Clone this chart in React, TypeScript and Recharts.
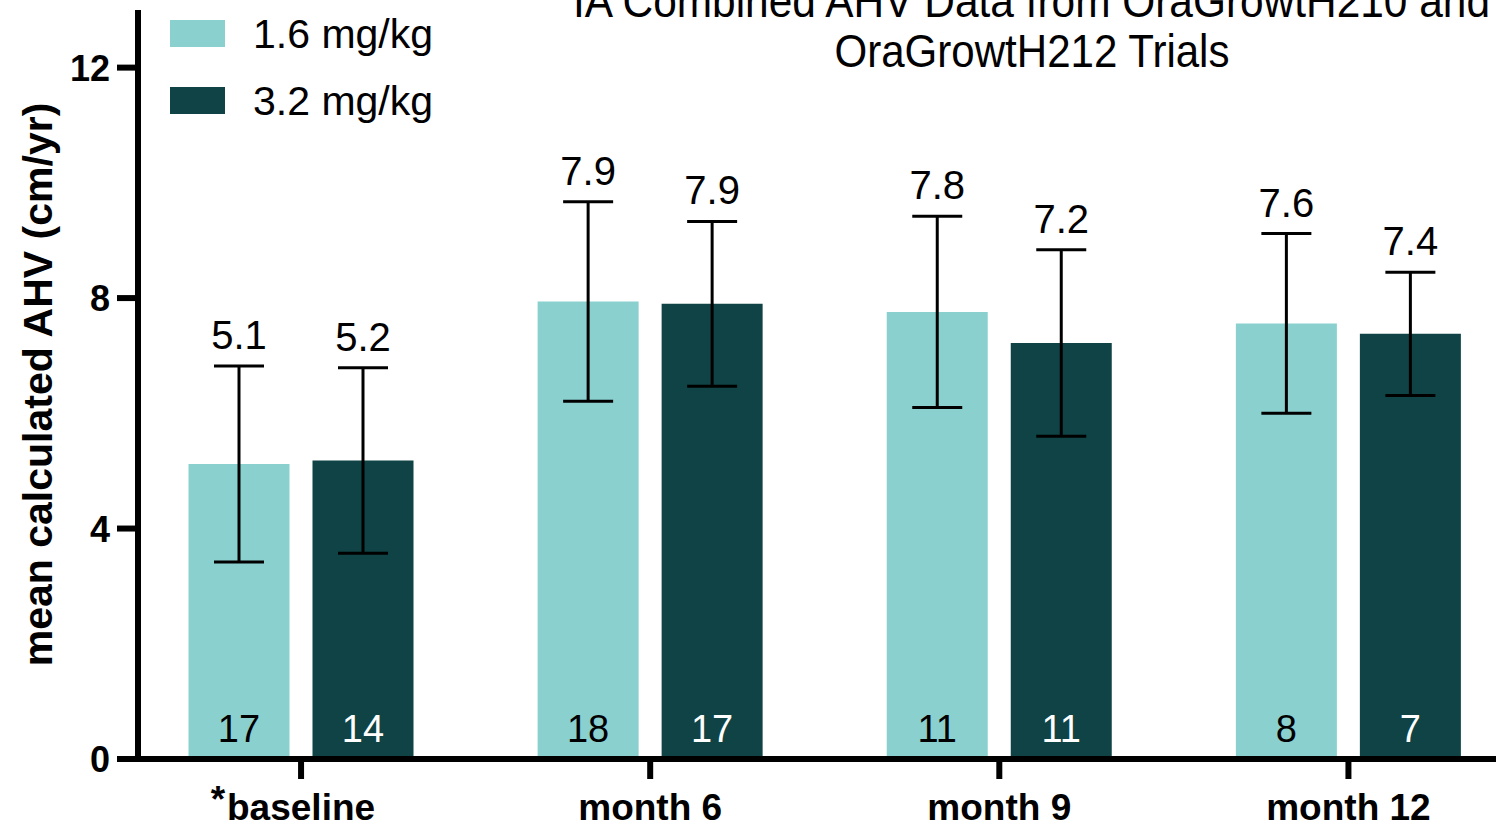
import React from "react"
import { Bar, BarChart, ErrorBar, LabelList, XAxis, YAxis } from "recharts"

const categories = ["*baseline", "month 6", "month 9", "month 12"]
const mean16 = [5.12, 7.94, 7.76, 7.56]
const mean32 = [5.18, 7.9, 7.22, 7.38]
const sd16 = [1.7, 1.73, 1.66, 1.56]
const sd32 = [1.61, 1.43, 1.62, 1.07]
const n16 = [17, 18, 11, 8]
const n32 = [14, 17, 11, 7]
const yTicks = [0, 4, 8, 12]
const seriesNames = ["1.6 mg/kg", "3.2 mg/kg"]

const LIGHT = "#89d0cf"
const DARK = "#0f4345"
const FONT = "'Liberation Sans', Arial, sans-serif"

const data = categories.map((name, i) => ({
  name,
  m16: mean16[i],
  m32: mean32[i],
  sd16: sd16[i],
  sd32: sd32[i],
  n16: n16[i],
  n32: n32[i],
}))

function box(props: any) {
  const vb = props.viewBox || props
  return { x: Number(vb.x), y: Number(vb.y), w: Number(vb.width), h: Number(vb.height) }
}

// mean value printed above the top of the error bar
function meanLabel(sd: number[]) {
  return (props: any) => {
    const { x, y, w, h } = box(props)
    const v = Number(props.value)
    const top = y - (sd[props.index] * h) / v
    return (
      <text x={x + w / 2} y={top - 17} textAnchor="middle" fontFamily={FONT} fontSize={40} fill="#000">
        {v.toFixed(1)}
      </text>
    )
  }
}

// n printed at the foot of the bar
function countLabel(color: string) {
  return (props: any) => {
    const { x, y, w, h } = box(props)
    return (
      <text x={x + w / 2} y={y + h - 17} textAnchor="middle" fontFamily={FONT} fontSize={38} fill={color}>
        {props.value}
      </text>
    )
  }
}

const XTick = (props: any) => {
  const { x, y, payload } = props
  const label: string = payload.value
  const star = label.startsWith("*")
  const text = star ? label.slice(1) : label
  return (
    <g>
      {star && (
        <text x={x - 76} y={y + 31} textAnchor="end" fontFamily={FONT} fontWeight="bold" fontSize={37} fill="#000">
          *
        </text>
      )}
      <text x={x} y={y + 39} textAnchor="middle" fontFamily={FONT} fontWeight="bold" fontSize={37} fill="#000">
        {text}
      </text>
    </g>
  )
}

const YTick = (props: any) => {
  const { x, y, payload } = props
  return (
    <text x={x} y={y + 13} textAnchor="end" fontFamily={FONT} fontWeight="bold" fontSize={36} fill="#000">
      {payload.value}
    </text>
  )
}

const YLabel = (props: any) => {
  const vb = props.viewBox
  const cy = vb.y + vb.height / 2
  return (
    <text
      x={52}
      y={cy}
      transform={`rotate(-90, 52, ${cy})`}
      textAnchor="middle"
      fontFamily={FONT}
      fontWeight="bold"
      fontSize={41}
      fill="#000"
    >
      mean calculated AHV (cm/yr)
    </text>
  )
}

export default function App() {
  return (
    <div
      style={{
        position: "fixed",
        left: 0,
        top: 0,
        width: 1496,
        height: 828,
        overflow: "hidden",
        background: "#fff",
      }}
    >
      <BarChart
        width={1533}
        height={828}
        data={data}
        margin={{ top: 10, right: 10, left: 0, bottom: 0 }}
        barSize={101}
        barGap={23}
      >
        <XAxis
          dataKey="name"
          height={69}
          padding={{ left: -11.5, right: 0 }}
          axisLine={{ stroke: "#000", strokeWidth: 6 }}
          tickLine={{ stroke: "#000", strokeWidth: 6 }}
          tickSize={20}
          tickMargin={2}
          tick={<XTick />}
          interval={0}
        />
        <YAxis
          width={138}
          domain={[0, 13]}
          ticks={yTicks}
          axisLine={{ stroke: "#000", strokeWidth: 6 }}
          tickLine={{ stroke: "#000", strokeWidth: 6 }}
          tickSize={21}
          tickMargin={7}
          tick={<YTick />}
          label={<YLabel />}
        />
        <Bar dataKey="m16" name={seriesNames[0]} fill={LIGHT} isAnimationActive={false}>
          <ErrorBar dataKey="sd16" width={25} strokeWidth={3} stroke="#000" />
          <LabelList dataKey="m16" content={meanLabel(sd16)} />
          <LabelList dataKey="n16" content={countLabel("#000")} />
        </Bar>
        <Bar dataKey="m32" name={seriesNames[1]} fill={DARK} isAnimationActive={false}>
          <ErrorBar dataKey="sd32" width={25} strokeWidth={3} stroke="#000" />
          <LabelList dataKey="m32" content={meanLabel(sd32)} />
          <LabelList dataKey="n32" content={countLabel("#fff")} />
        </Bar>
      </BarChart>

      <svg
        width={1496}
        height={828}
        style={{ position: "absolute", left: 0, top: 0, pointerEvents: "none" }}
      >
        <text x={1031.5} y={17} textAnchor="middle" fontFamily={FONT} fontSize={46} textLength={917} lengthAdjust="spacingAndGlyphs">
          IA Combined AHV Data from OraGrowtH210 and
        </text>
        <text x={1032} y={67} textAnchor="middle" fontFamily={FONT} fontSize={46} textLength={395} lengthAdjust="spacingAndGlyphs">
          OraGrowtH212 Trials
        </text>
        {seriesNames.map((name, i) => (
          <g key={name}>
            <rect x={170} y={20 + i * 67} width={55} height={27} fill={i === 0 ? LIGHT : DARK} />
            <text x={253} y={48 + i * 67} fontFamily={FONT} fontSize={41} fill="#000">
              {name}
            </text>
          </g>
        ))}
      </svg>
    </div>
  )
}
